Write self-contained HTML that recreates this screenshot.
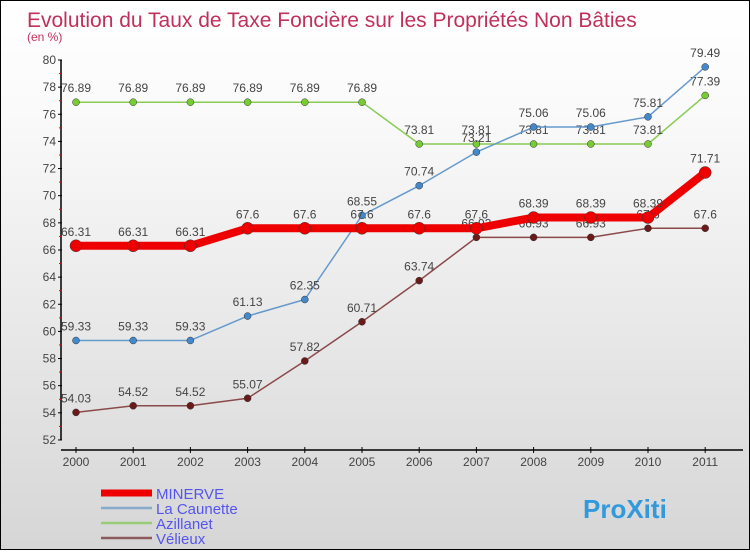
<!DOCTYPE html>
<html><head><meta charset="utf-8"><style>
body{margin:0}
#c{width:748px;height:548px;border:1px solid #000;background:linear-gradient(#fff,#fafafa 20%,#d6d6d6);position:relative;font-family:"Liberation Sans",sans-serif}
</style></head><body>
<div id="c">
<svg id="s" width="748" height="548"></svg>
</div>
<script>
const years=[2000,2001,2002,2003,2004,2005,2006,2007,2008,2009,2010,2011];
const yTicks=[52,54,56,58,60,62,64,66,68,70,72,74,76,78,80];
const minerve=[66.31,66.31,66.31,67.6,67.6,67.6,67.6,67.6,68.39,68.39,68.39,71.71];
const caunette=[59.33,59.33,59.33,61.13,62.35,68.55,70.74,73.21,75.06,75.06,75.81,79.49];
const azillanet=[76.89,76.89,76.89,76.89,76.89,76.89,73.81,73.81,73.81,73.81,73.81,77.39];
const velieux=[54.03,54.52,54.52,55.07,57.82,60.71,63.74,66.93,66.93,66.93,67.6,67.6];
const seriesNames=["MINERVE","La Caunette","Azillanet","Vélieux"];
const NS="http://www.w3.org/2000/svg";
const s=document.getElementById('s');
const X=i=>75+i*57.2, Y=v=>59+(80-v)*13.57;
function el(t,a,txt){const e=document.createElementNS(NS,t);for(const k in a)e.setAttribute(k,a[k]);if(txt!==undefined)e.textContent=txt;s.appendChild(e);return e;}
let t=el('text',{x:26,y:26,'font-size':21,fill:'#c0305a'},'Evolution du Taux de Taxe Foncière sur les Propriétés Non Bâties');

t=el('text',{x:26,y:40,'font-size':12,fill:'#c0305a'},'(en %)');

let a=el('line',{x1:60,y1:Y(80),x2:60,y2:Y(52),stroke:'#000','stroke-width':1.5});

a=el('line',{x1:60,y1:449,x2:742,y2:449,stroke:'#000','stroke-width':1.5});

yTicks.forEach(v=>{el('line',{x1:57,y1:Y(v),x2:61,y2:Y(v),stroke:'#000'});
el('line',{x1:58,y1:Y(v+1),x2:61,y2:Y(v+1),stroke:v<80?'#e00':'none'});
const l=el('text',{x:55,y:Y(v)+4,'font-size':12,fill:'#444','text-anchor':'end'},v);
});
years.forEach((y,i)=>{el('line',{x1:X(i),y1:446,x2:X(i),y2:452,stroke:'#000'});
const l=el('text',{x:X(i),y:465,'font-size':12,fill:'#444','text-anchor':'middle'},y);
});
function series(d,col,w,r,name,dot){
const p=el('polyline',{points:d.map((v,i)=>X(i)+','+Y(v)).join(' '),fill:'none',stroke:col,'stroke-width':w,'stroke-linejoin':'round'});

d.forEach((v,i)=>{const c=el('circle',{cx:X(i),cy:Y(v),r:r,fill:dot,stroke:'#333','stroke-width':0.5});

const l=el('text',{x:X(i),y:Y(v)-10,'font-size':12,fill:'#444','text-anchor':'middle'},v);
});}
series(velieux,'#8b4a4a',1.5,3.5,'velieux','#6b1a1a');
series(azillanet,'#88cc55',1.5,3.5,'azillanet','#77cc33');
series(caunette,'#6699cc',1.5,3.5,'la-caunette','#4488cc');
series(minerve,'#ee0000',8,6,'minerve','#ee0000');
const lc=['#ee0000','#88aacc','#99cc77','#8b5a5a'],lw=[7,2.5,2.5,2.5];
seriesNames.forEach((n,i)=>{const y=492+i*15;
const ln=el('line',{x1:100,y1:y,x2:151,y2:y,stroke:lc[i],'stroke-width':lw[i]});

const l=el('text',{x:155,y:y+6,'font-size':15,fill:'#5555ee'},n);
});
const lg=el('text',{x:582,y:517,'font-size':26,'font-weight':'bold',fill:'#3399dd'},'ProXiti');

</script>
</body></html>
